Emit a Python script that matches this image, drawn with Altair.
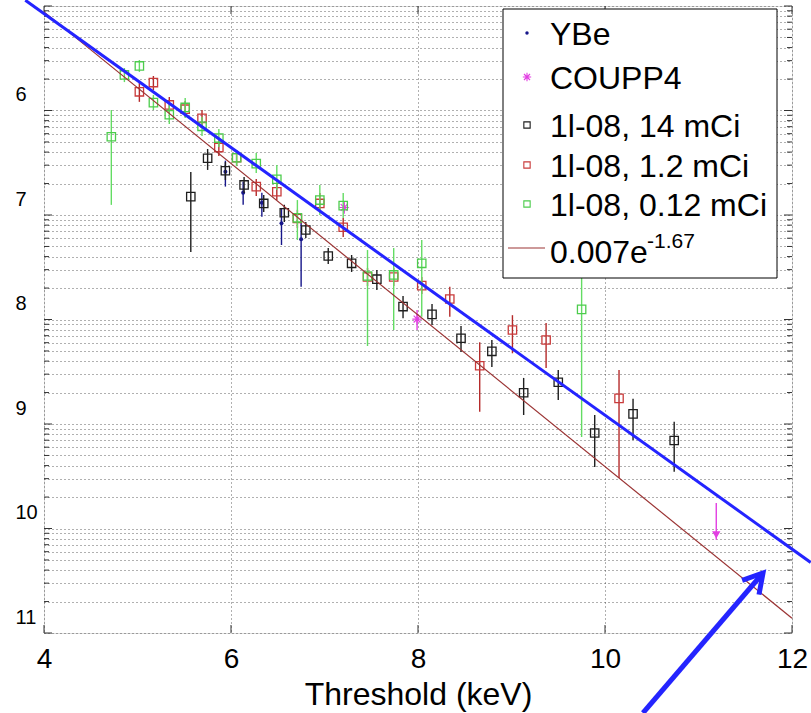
import numpy as np
import pandas as pd
import altair as alt

# ---------------- data: threshold (keV), rate, error-bar limits ----------------
ybe_e = [5.94, 6.13, 6.33, 6.54, 6.75]
ybe_r = [2.60e-7, 1.63e-7, 1.31e-7, 8.33e-8, 5.86e-8]
ybe_hi = [3.31e-7, 2.08e-7, 1.63e-7, 1.14e-7, 8.96e-8]
ybe_lo = [1.87e-7, 1.25e-7, 9.63e-8, 5.16e-8, 2.06e-8]

coupp_e = [7.21, 7.99]
coupp_r = [1.18e-7, 1.01e-8]
coupp_hi = [1.34e-7, 1.23e-8]
coupp_lo = [1.03e-7, 7.93e-9]
# COUPP4 upper limit (arrow pointing down)
coupp_lim_e = [11.19]
coupp_lim_top = [1.75e-10]
coupp_lim_tip = [7.8e-11]

c14_e = [5.57, 5.75, 5.94, 6.14, 6.35, 6.57, 6.80, 7.04, 7.29, 7.56,
         7.84, 8.15, 8.46, 8.79, 9.13, 9.50, 9.89, 10.30, 10.74]
c14_r = [1.50e-7, 3.49e-7, 2.65e-7, 1.94e-7, 1.29e-7, 1.05e-7, 7.19e-8, 4.05e-8, 3.45e-8, 2.43e-8,
         1.33e-8, 1.12e-8, 6.61e-9, 4.96e-9, 1.99e-9, 2.51e-9, 8.20e-10, 1.25e-9, 6.95e-10]
c14_hi = [2.58e-7, 4.28e-7, 3.21e-7, 2.31e-7, 1.55e-7, 1.25e-7, 8.57e-8, 4.83e-8, 4.14e-8, 2.98e-8,
          1.68e-8, 1.41e-8, 8.67e-9, 6.37e-9, 2.76e-9, 3.29e-9, 1.22e-9, 1.74e-9, 1.05e-9]
c14_lo = [4.42e-8, 2.70e-7, 2.16e-7, 1.62e-7, 1.07e-7, 8.57e-8, 6.02e-8, 3.40e-8, 2.85e-8, 1.92e-8,
          1.03e-8, 8.86e-9, 4.89e-9, 3.51e-9, 1.22e-9, 1.70e-9, 3.88e-10, 7.03e-10, 3.50e-10]

c12_e = [5.02, 5.17, 5.34, 5.51, 5.69, 5.87, 6.06, 6.27, 6.49, 6.71,
         6.95, 7.20, 7.46, 7.74, 8.04, 8.34, 8.66, 9.01, 9.37, 10.15]
c12_r = [1.51e-6, 1.85e-6, 1.13e-6, 1.03e-6, 8.42e-7, 4.42e-7, 3.53e-7, 1.87e-7, 1.67e-7, 9.26e-8,
         1.29e-7, 7.63e-8, 2.55e-8, 2.55e-8, 2.11e-8, 1.57e-8, 3.61e-9, 7.93e-9, 6.37e-9, 1.76e-9]
c12_hi = [1.83e-6, 2.14e-6, 1.35e-6, 1.23e-6, 1.01e-6, 5.34e-7, 4.19e-7, 2.21e-7, 2.02e-7, 1.12e-7,
          1.62e-7, 9.36e-8, 3.11e-8, 3.11e-8, 2.55e-8, 2.06e-8, 6.05e-9, 1.10e-8, 9.26e-9, 3.29e-9]
c12_lo = [1.21e-6, 1.57e-6, 9.47e-7, 8.67e-7, 6.95e-7, 3.67e-7, 2.94e-7, 1.52e-7, 1.39e-7, 7.51e-8,
          1.05e-7, 6.16e-8, 2.09e-8, 2.09e-8, 1.75e-8, 1.06e-8, 1.31e-9, 4.75e-9, 3.44e-9, 3.04e-10]

c012_e = [4.72, 4.86, 5.02, 5.17, 5.34, 5.51, 5.69, 5.87, 6.06, 6.27,
          6.49, 6.71, 6.95, 7.20, 7.46, 7.74, 8.04, 9.75]
c012_r = [5.61e-7, 2.19e-6, 2.67e-6, 1.19e-6, 9.12e-7, 1.07e-6, 7.06e-7, 5.45e-7, 3.53e-7, 3.10e-7,
          2.20e-7, 9.40e-8, 1.39e-7, 1.23e-7, 2.61e-8, 2.67e-8, 3.45e-8, 1.25e-8]
c012_hi = [1.01e-6, 2.55e-6, 3.04e-6, 1.41e-6, 1.13e-6, 1.32e-6, 8.67e-7, 6.65e-7, 4.19e-7, 3.92e-7,
           3.01e-7, 1.39e-7, 1.94e-7, 1.62e-7, 4.62e-8, 4.83e-8, 5.77e-8, 2.67e-8]
c012_lo = [1.25e-7, 1.87e-6, 2.34e-6, 1.01e-6, 7.43e-7, 8.48e-7, 5.70e-7, 4.47e-7, 2.94e-7, 2.52e-7,
           1.74e-7, 5.77e-8, 1.00e-7, 9.36e-8, 5.58e-9, 7.93e-9, 1.06e-8, 7.51e-10]

# exponential fit: 0.007 * exp(-1.67 * E)
fit_a, fit_b = 0.007, -1.67
fit_e = [4.0, 12.0]
fit_r = [fit_a * float(np.exp(fit_b * e)) for e in fit_e]

# hand-drawn guide line and arrow
guide_e = [3.8, 12.2]
guide_r = [1.136e-5, 4.736e-11]
arrow_e = [10.406, 11.690]
arrow_r = [1.716e-12, 3.751e-11]
arrow_head_e = [11.467, 11.690, 11.647]
arrow_head_r = [3.193e-11, 3.751e-11, 2.331e-11]

# axis ticks
x_ticks = [4, 6, 8, 10, 12]
y_decades = [10.0 ** k for k in range(-11, -4)]
y_minor = [m * 10.0 ** k for k in range(-11, -5) for m in range(2, 10)]

# legend entries
legend_labels = ["YBe", "COUPP4", "1l-08, 14 mCi", "1l-08, 1.2 mCi", "1l-08, 0.12 mCi", "0.007e"]
legend_sup = "-1.67"

# ---------------- styling ----------------
FONT = "Liberation Sans"
NAVY = "#16168a"
MAGENTA = "#e23fe2"
BLACK = "#1e1e1e"
RED = "#c93a3a"
RED_BAR = "#b52a2a"
GREEN = "#4ccc4c"
GREEN_BAR = "#63dc63"
FIT = "#9b3434"
BLUE = "#2424ff"
ASTERISK = "M-1,0L1,0M0,-1L0,1M-0.72,-0.72L0.72,0.72M-0.72,0.72L0.72,-0.72"

PAD_L, PAD_T, PAD_R, PAD_B = 44, 6, 19, 80
GRID = dict(grid=True, gridDash=[1, 3], gridColor="#3a3a3a", gridOpacity=0.8, gridWidth=1)

X_SCALE = alt.Scale(domain=[4, 12], nice=False, zero=False)
Y_SCALE = alt.Scale(type="log", domain=[1e-11, 1e-5], nice=False)

x_axis = alt.Axis(
    values=x_ticks, format="d", title="Threshold (keV)",
    labelFontSize=28, labelFont=FONT, labelColor="black", labelPadding=12,
    labelFlush=False, labelOverlap=False,
    ticks=False, domain=False,
    titleFontSize=32, titleFont=FONT, titleFontWeight="normal", titleColor="black",
    titleBaseline="alphabetic", titleY=71,
    **GRID,
)
y_axis = alt.Axis(
    values=sorted(y_decades + y_minor),
    labelExpr=("(datum.value < 5e-6 && abs(log(datum.value)/LN10 - round(log(datum.value)/LN10)) < 1e-6)"
               " ? '' + (-round(log(datum.value)/LN10)) : ''"),
    labelFontSize=20, labelFont=FONT, labelColor="black",
    labelAlign="left", labelBaseline="middle", labelPadding=29, labelOffset=-16,
    labelOverlap=False, labelFlush=False,
    ticks=False, domain=False, title=None,
    **GRID,
)


def X():
    return alt.X("E:Q", scale=X_SCALE, axis=x_axis)


def Y(field="rate"):
    return alt.Y(f"{field}:Q", scale=Y_SCALE, axis=y_axis)


def table(e, r, lo, hi):
    return pd.DataFrame({"E": e, "rate": r, "lo": lo, "hi": hi})


def series(df, bar_color, mark):
    bars = alt.Chart(df).mark_rule(color=bar_color, strokeWidth=1.4).encode(
        x=X(), y=Y("lo"), y2=alt.Y2("hi:Q"))
    pts = alt.Chart(df).mark_point(**mark).encode(x=X(), y=Y())
    return [bars, pts]


layers = []

# inward tick marks on the frame
left_dec = pd.DataFrame({"E": [4.0] * len(y_decades), "rate": y_decades})
left_min = pd.DataFrame({"E": [4.0] * len(y_minor), "rate": y_minor})
right_dec = pd.DataFrame({"E": [12.0] * len(y_decades), "rate": y_decades})
right_min = pd.DataFrame({"E": [12.0] * len(y_minor), "rate": y_minor})
bot = pd.DataFrame({"E": x_ticks, "rate": [1e-11] * len(x_ticks)})
top = pd.DataFrame({"E": x_ticks, "rate": [1e-5] * len(x_ticks)})
tick_style = dict(color="#333", thickness=1, opacity=1)
layers += [
    alt.Chart(left_dec).mark_tick(orient="horizontal", size=8, xOffset=4, **tick_style).encode(x=X(), y=Y()),
    alt.Chart(left_min).mark_tick(orient="horizontal", size=5, xOffset=2.5, **tick_style).encode(x=X(), y=Y()),
    alt.Chart(right_dec).mark_tick(orient="horizontal", size=8, xOffset=-4, **tick_style).encode(x=X(), y=Y()),
    alt.Chart(right_min).mark_tick(orient="horizontal", size=5, xOffset=-2.5, **tick_style).encode(x=X(), y=Y()),
    alt.Chart(bot).mark_tick(orient="vertical", size=8, yOffset=-4, **tick_style).encode(x=X(), y=Y()),
    alt.Chart(top).mark_tick(orient="vertical", size=8, yOffset=4, **tick_style).encode(x=X(), y=Y()),
]

# data series
layers += series(table(ybe_e, ybe_r, ybe_lo, ybe_hi), NAVY,
                 dict(shape="circle", filled=True, size=16, color=NAVY, opacity=1))
layers += series(table(coupp_e, coupp_r, coupp_lo, coupp_hi), MAGENTA,
                 dict(shape=ASTERISK, filled=False, size=90, color=MAGENTA, strokeWidth=1.2, opacity=1))
layers += series(table(c14_e, c14_r, c14_lo, c14_hi), BLACK,
                 dict(shape="square", filled=False, size=70, color=BLACK, strokeWidth=1.3, opacity=1))
layers += series(table(c12_e, c12_r, c12_lo, c12_hi), RED_BAR,
                 dict(shape="square", filled=False, size=70, color=RED, strokeWidth=1.3, opacity=1))
layers += series(table(c012_e, c012_r, c012_lo, c012_hi), GREEN_BAR,
                 dict(shape="square", filled=False, size=70, color=GREEN, strokeWidth=1.3, opacity=1))

# COUPP4 upper limit
lim = pd.DataFrame({"E": coupp_lim_e, "top": coupp_lim_top, "rate": coupp_lim_tip})
layers += [
    alt.Chart(lim).mark_rule(color=MAGENTA, strokeWidth=1.4).encode(x=X(), y=Y("top"), y2=alt.Y2("rate:Q")),
    alt.Chart(lim).mark_point(shape="triangle-down", filled=True, size=70, color=MAGENTA, opacity=1,
                              yOffset=-5).encode(x=X(), y=Y()),
]

# fit line
layers.append(alt.Chart(pd.DataFrame({"E": fit_e, "rate": fit_r}))
              .mark_line(color=FIT, strokeWidth=1.2).encode(x=X(), y=Y()))

# guide line and arrow
layers.append(alt.Chart(pd.DataFrame({"E": guide_e, "rate": guide_r}))
              .mark_line(color=BLUE, strokeWidth=3).encode(x=X(), y=Y()))
arrow_df = pd.DataFrame({
    "E": arrow_e + arrow_head_e,
    "rate": arrow_r + arrow_head_r,
    "part": ["shaft"] * len(arrow_e) + ["head"] * len(arrow_head_e),
    "i": list(range(len(arrow_e))) + list(range(len(arrow_head_e))),
})
layers.append(alt.Chart(arrow_df).mark_line(color=BLUE, strokeWidth=5, strokeJoin="miter", strokeCap="butt")
              .encode(x=X(), y=Y(), detail="part:N", order="i:Q"))

# legend (positions in page pixels, shifted into plot-area coordinates)
one = pd.DataFrame({"k": [0]})
LEG_X0, LEG_Y0, LEG_X1, LEG_Y1 = 503 - PAD_L, 9 - PAD_T, 777 - PAD_L, 278 - PAD_T
LEG_ROW_Y = [y - PAD_T for y in [33, 77, 125, 165, 204, 251]]
LEG_SYM_X, LEG_TEXT_X = 527 - PAD_L, 550 - PAD_L
layers.append(alt.Chart(one).mark_rect(fill="white", stroke="black", strokeWidth=1).encode(
    x=alt.value(LEG_X0), x2=alt.value(LEG_X1), y=alt.value(LEG_Y0), y2=alt.value(LEG_Y1)))

layers.append(alt.Chart(one).mark_point(shape="circle", filled=True, size=12, color=NAVY, opacity=1).encode(
    x=alt.value(LEG_SYM_X), y=alt.value(LEG_ROW_Y[0])))
layers.append(alt.Chart(one).mark_point(shape=ASTERISK, filled=False, size=70, color=MAGENTA,
                                        strokeWidth=1.1, opacity=1).encode(
    x=alt.value(LEG_SYM_X), y=alt.value(LEG_ROW_Y[1])))
sq = pd.DataFrame({"py": LEG_ROW_Y[2:5], "col": [BLACK, RED, GREEN]})
layers.append(alt.Chart(sq).mark_point(shape="square", filled=False, size=40, strokeWidth=1.1, opacity=1).encode(
    x=alt.value(LEG_SYM_X), y=alt.Y("py:Q", scale=None, axis=None), stroke=alt.Stroke("col:N", scale=None)))
layers.append(alt.Chart(one).mark_rule(color=FIT, strokeWidth=1.2).encode(
    x=alt.value(508 - PAD_L), x2=alt.value(545 - PAD_L), y=alt.value(LEG_ROW_Y[5] - 3)))

txt = pd.DataFrame({"label": legend_labels, "py": [y + 11.5 for y in LEG_ROW_Y]})
layers.append(alt.Chart(txt).mark_text(align="left", baseline="alphabetic", font=FONT, fontSize=32,
                                       color="black").encode(
    x=alt.value(LEG_TEXT_X), y=alt.Y("py:Q", scale=None, axis=None), text="label:N"))
layers.append(alt.Chart(pd.DataFrame({"label": [legend_sup]})).mark_text(
    align="left", baseline="alphabetic", font=FONT, fontSize=21, color="black").encode(
    x=alt.value(647 - PAD_L), y=alt.value(248 - PAD_T), text="label:N"))

chart = (
    alt.layer(*layers)
    .properties(width=748, height=627, autosize="none",
                padding={"left": PAD_L, "top": PAD_T, "right": PAD_R, "bottom": PAD_B})
    .configure_view(stroke="#3a3a3a", strokeWidth=1.2)
    .configure(background="white", font=FONT)
)

chart.save("out.html", embed_options={"renderer": "svg", "actions": False})
